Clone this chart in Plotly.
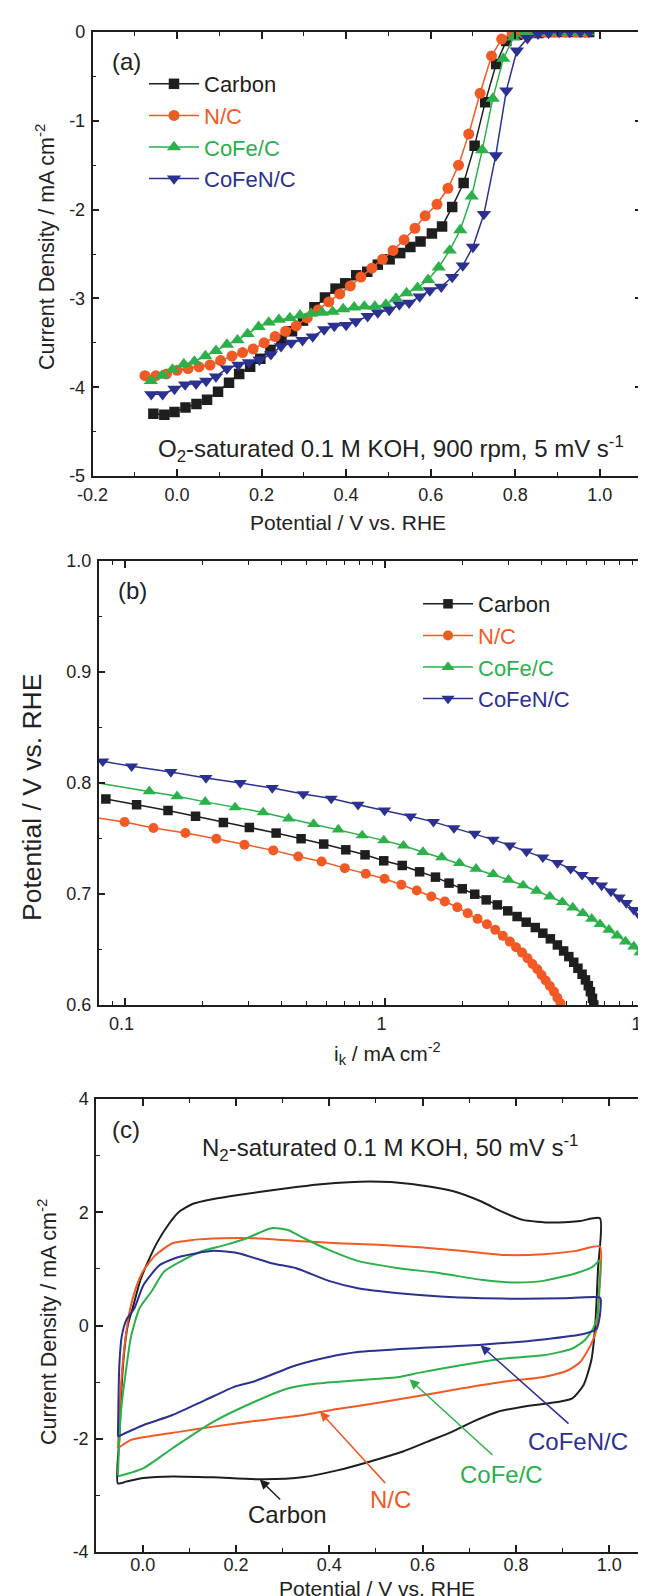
import plotly.graph_objects as go

W, H = 646, 1596
FONT = "Liberation Sans, Arial, sans-serif"

names = ["Carbon", "N/C", "CoFe/C", "CoFeN/C"]
colors = ["#1e1e1e", "#f15a24", "#2bb04a", "#2b3190"]
symbols = ["square", "circle", "triangle-up", "triangle-down"]
a_sizes = [10.5, 11, 12.5, 12.5]
b_sizes = [9.5, 10, 11.5, 11.5]

# ---------- Panel (a): LSV ----------
a_carbon_x = [-0.056,-0.030,-0.006,0.020,0.046,0.071,0.097,0.123,0.147,0.173,0.197,0.221,0.247,0.272,0.298,0.325,0.350,0.375,0.398,0.424,0.450,0.475,0.503,0.528,0.552,0.576,0.603,0.627,0.651,0.678,0.704,0.729,0.755,0.779,0.805,0.830,0.855,0.880,0.905,0.930,0.955,0.975]
a_carbon_y = [-4.30,-4.31,-4.28,-4.23,-4.19,-4.14,-4.05,-3.95,-3.85,-3.77,-3.68,-3.58,-3.47,-3.37,-3.25,-3.10,-2.99,-2.89,-2.83,-2.74,-2.70,-2.62,-2.56,-2.49,-2.42,-2.36,-2.27,-2.19,-1.97,-1.70,-1.28,-0.79,-0.36,-0.10,-0.03,-0.01,-0.01,0,0,0,0,0]
a_nc_x = [-0.076,-0.050,-0.025,0.0,0.026,0.052,0.078,0.103,0.130,0.155,0.180,0.206,0.232,0.257,0.282,0.308,0.334,0.359,0.385,0.410,0.435,0.461,0.486,0.511,0.537,0.563,0.587,0.615,0.641,0.666,0.690,0.717,0.744,0.768,0.793,0.818,0.843,0.868,0.893,0.918,0.943,0.968]
a_nc_y = [-3.87,-3.87,-3.85,-3.81,-3.79,-3.77,-3.75,-3.70,-3.65,-3.61,-3.57,-3.50,-3.43,-3.37,-3.31,-3.22,-3.13,-3.04,-2.95,-2.86,-2.76,-2.66,-2.56,-2.46,-2.34,-2.21,-2.07,-1.94,-1.76,-1.50,-1.15,-0.69,-0.27,-0.08,-0.02,-0.01,0,0,0,0,0,0]
a_cofe_x = [-0.062,-0.036,-0.011,0.016,0.041,0.067,0.092,0.118,0.143,0.167,0.193,0.217,0.241,0.267,0.291,0.317,0.343,0.368,0.393,0.419,0.443,0.468,0.494,0.518,0.543,0.569,0.594,0.619,0.645,0.670,0.697,0.722,0.747,0.772,0.796,0.821,0.846,0.871,0.896,0.921,0.946,0.971]
a_cofe_y = [-3.93,-3.87,-3.80,-3.74,-3.71,-3.65,-3.59,-3.52,-3.47,-3.40,-3.32,-3.27,-3.24,-3.22,-3.19,-3.17,-3.16,-3.15,-3.12,-3.10,-3.09,-3.09,-3.07,-3.00,-2.94,-2.88,-2.79,-2.65,-2.46,-2.23,-1.85,-1.33,-0.75,-0.30,-0.06,-0.02,-0.01,0,0,0,0,0]
a_cofen_x = [-0.061,-0.034,-0.006,0.019,0.045,0.069,0.092,0.118,0.145,0.170,0.195,0.222,0.246,0.270,0.297,0.321,0.348,0.372,0.400,0.423,0.451,0.475,0.502,0.526,0.549,0.574,0.598,0.625,0.651,0.676,0.700,0.726,0.754,0.779,0.804,0.829,0.854,0.879,0.904,0.929,0.954,0.975]
a_cofen_y = [-4.08,-4.08,-4.02,-3.97,-3.96,-3.93,-3.88,-3.79,-3.75,-3.72,-3.69,-3.63,-3.54,-3.50,-3.47,-3.43,-3.35,-3.31,-3.30,-3.26,-3.20,-3.16,-3.13,-3.07,-3.05,-2.98,-2.91,-2.87,-2.76,-2.63,-2.42,-2.05,-1.39,-0.66,-0.21,-0.07,-0.02,-0.01,0,0,0,0]

# ---------- Panel (b): Tafel-like ----------
b_carbon_i = [0.0847,0.1112,0.1469,0.1875,0.2399,0.3020,0.3828,0.4775,0.5834,0.7096,0.8414,0.9931,1.1695,1.3646,1.5704,1.7701,1.9907,2.2233,2.4604,2.7164,2.9785,3.2359,3.5075,3.8019,4.0644,4.3451,4.6238,4.8865,5.1168,5.3456,5.5463,5.7544,5.9293,6.0814,6.1944,6.3096,6.3826]
b_carbon_E = [0.7856,0.7805,0.7753,0.770,0.7645,0.760,0.7549,0.7498,0.745,0.7398,0.7353,0.7299,0.7257,0.7200,0.7152,0.7098,0.7047,0.6998,0.6947,0.6902,0.6848,0.6797,0.6746,0.6698,0.6647,0.6596,0.6541,0.6487,0.6436,0.6385,0.6331,0.6277,0.6226,0.6174,0.612,0.606,0.600]
b_nc_i = [0.070,0.1,0.1291,0.1714,0.2254,0.2891,0.3733,0.4656,0.5728,0.7031,0.8472,1.0,1.1614,1.3305,1.5136,1.7061,1.9055,2.0893,2.2803,2.4774,2.6669,2.8510,3.0339,3.2063,3.3806,3.5481,3.7068,3.8726,4.0179,4.1687,4.3251,4.4875,4.6238,4.7534]
b_nc_E = [0.7705,0.7648,0.7594,0.7549,0.7498,0.7444,0.7393,0.7338,0.7293,0.7233,0.7182,0.7137,0.7083,0.7032,0.6977,0.6932,0.6881,0.6827,0.6776,0.6728,0.6677,0.6623,0.6571,0.6520,0.6472,0.6421,0.6370,0.6322,0.6271,0.6220,0.6171,0.6120,0.6066,0.6015]
b_cofe_i = [0.070,0.1245,0.1592,0.2042,0.2661,0.3412,0.4276,0.5333,0.6637,0.8204,0.9931,1.183,1.406,1.660,1.941,2.249,2.618,2.999,3.412,3.846,4.325,4.831,5.297,5.794,6.266,6.745,7.295,7.852,8.453,9.099,9.616,10.14]
b_cofe_E = [0.802,0.7925,0.788,0.783,0.778,0.7735,0.768,0.763,0.758,0.7528,0.7483,0.7435,0.7378,0.733,0.7278,0.7227,0.7179,0.7128,0.7077,0.7029,0.6977,0.6926,0.6878,0.6827,0.6776,0.6728,0.6677,0.6626,0.6571,0.6526,0.6475,0.642]
b_cofen_i = [0.0824,0.1064,0.1507,0.2056,0.2786,0.3698,0.4864,0.6237,0.7907,1.0,1.259,1.542,1.849,2.223,2.618,3.034,3.516,4.064,4.624,5.200,5.754,6.310,6.839,7.430,7.998,8.511,9.099,9.616,10.07]
b_cofen_E = [0.8195,0.815,0.810,0.8045,0.800,0.7955,0.790,0.786,0.7805,0.7753,0.770,0.765,0.7594,0.7543,0.749,0.7438,0.7383,0.733,0.728,0.7227,0.7173,0.7128,0.7077,0.7023,0.697,0.692,0.6857,0.680,0.666]

# ---------- Panel (c): CV loops ----------
c_carbon_x = [-0.053,-0.050,-0.046,-0.040,-0.032,-0.020,-0.005,0.010,0.030,0.055,0.077,0.108,0.152,0.205,0.293,0.382,0.488,0.576,0.664,0.726,0.770,0.815,0.876,0.938,0.980,
              0.976,0.970,0.962,0.945,0.920,0.867,0.815,0.761,0.708,0.664,0.611,0.558,0.488,0.417,0.346,0.258,0.152,0.064,0.002,-0.034,-0.053]
c_carbon_y = [-2.79,-2.0,-1.2,-0.5,0.0,0.35,0.8,1.1,1.45,1.78,2.0,2.15,2.235,2.306,2.406,2.494,2.541,2.50,2.376,2.19,2.01,1.865,1.818,1.847,1.894,
              1.0,0.0,-0.6,-1.05,-1.29,-1.376,-1.435,-1.523,-1.698,-1.874,-2.05,-2.225,-2.401,-2.559,-2.676,-2.717,-2.682,-2.665,-2.694,-2.753,-2.79]
c_nc_x = [-0.053,-0.050,-0.045,-0.038,-0.028,-0.015,0.0,0.028,0.064,0.108,0.170,0.240,0.329,0.417,0.505,0.594,0.682,0.770,0.859,0.929,0.980,
          0.978,0.973,0.960,0.938,0.912,0.859,0.770,0.682,0.594,0.505,0.417,0.329,0.240,0.152,0.081,0.019,-0.025,-0.053]
c_nc_y = [-2.17,-1.6,-0.9,-0.3,0.25,0.65,0.95,1.247,1.453,1.512,1.541,1.541,1.494,1.453,1.424,1.382,1.318,1.247,1.259,1.318,1.394,
          0.6,-0.06,-0.35,-0.644,-0.79,-0.908,-0.996,-1.113,-1.242,-1.365,-1.476,-1.599,-1.687,-1.786,-1.874,-1.95,-2.02,-2.167]
c_cofe_x = [-0.053,-0.050,-0.045,-0.036,-0.025,-0.007,0.019,0.046,0.081,0.125,0.178,0.223,0.276,0.311,0.346,0.399,0.461,0.549,0.638,0.726,0.797,0.859,0.929,0.965,0.980,
            0.978,0.973,0.965,0.947,0.920,0.859,0.770,0.682,0.594,0.549,0.461,0.373,0.311,0.240,0.152,0.064,0.002,-0.053]
c_cofe_y = [-2.65,-2.0,-1.4,-0.81,-0.2,0.3,0.6,0.953,1.13,1.306,1.424,1.541,1.718,1.688,1.541,1.335,1.141,1.012,0.924,0.806,0.759,0.788,0.924,1.041,1.147,
            0.5,0.117,-0.06,-0.264,-0.41,-0.527,-0.586,-0.703,-0.832,-0.908,-0.966,-1.025,-1.113,-1.347,-1.698,-2.167,-2.518,-2.665]
c_cofen_x = [-0.053,-0.052,-0.050,-0.045,-0.035,-0.018,0.002,0.037,0.081,0.152,0.205,0.276,0.329,0.399,0.461,0.549,0.638,0.726,0.815,0.903,0.980,
             0.982,0.980,0.973,0.947,0.859,0.726,0.594,0.461,0.399,0.329,0.240,0.196,0.134,0.064,0.002,-0.053]
c_cofen_y = [-1.96,-1.4,-0.7,-0.2,0.1,0.3,0.718,1.07,1.218,1.318,1.276,1.1,1.012,0.788,0.659,0.571,0.512,0.482,0.471,0.482,0.494,
             0.45,0.176,-0.06,-0.146,-0.246,-0.34,-0.398,-0.469,-0.556,-0.703,-0.984,-1.083,-1.318,-1.581,-1.757,-1.962]

# c-panel labels: (text, text_x, text_y, tail_x, tail_y, head_x, head_y)
c_labels = [
    ("Carbon", 0.311, -3.34, 0.298, -3.10, 0.251, -2.72),
    ("N/C", 0.532, -3.07, 0.523, -2.81, 0.380, -1.52),
    ("CoFe/C", 0.770, -2.635, 0.753, -2.31, 0.572, -0.95),
    ("CoFeN/C", 0.934, -2.05, 0.916, -1.757, 0.724, -0.35),
]

a_xticks = [-0.2, 0.0, 0.2, 0.4, 0.6, 0.8, 1.0]
a_xtext = ["-0.2", "0.0", "0.2", "0.4", "0.6", "0.8", "1.0"]
a_yticks = [0, -1, -2, -3, -4, -5]
a_ytext = ["0", "-1", "-2", "-3", "-4", "-5"]
b_xticks = [0.1, 1, 10]
b_xtext = ["0.1", "1", "10"]
b_yticks = [0.6, 0.7, 0.8, 0.9, 1.0]
b_ytext = ["0.6", "0.7", "0.8", "0.9", "1.0"]
c_xticks = [0.0, 0.2, 0.4, 0.6, 0.8, 1.0]
c_xtext = ["0.0", "0.2", "0.4", "0.6", "0.8", "1.0"]
c_yticks = [-4, -2, 0, 2, 4]
c_ytext = ["-4", "-2", "0", "2", "4"]
b_minor = [0.09, 0.2, 0.3, 0.4, 0.5, 0.6, 0.7, 0.8, 0.9, 2, 3, 4, 5, 6, 7, 8, 9]

a_series = [(a_carbon_x, a_carbon_y), (a_nc_x, a_nc_y), (a_cofe_x, a_cofe_y), (a_cofen_x, a_cofen_y)]
b_series = [(b_carbon_i, b_carbon_E), (b_nc_i, b_nc_E), (b_cofe_i, b_cofe_E), (b_cofen_i, b_cofen_E)]
c_series = [(c_carbon_x, c_carbon_y), (c_nc_x, c_nc_y), (c_cofe_x, c_cofe_y), (c_cofen_x, c_cofen_y)]

fig = go.Figure()

def px_x(p):
    return p / W

def px_y(p):
    return 1 - p / H

for i, (xs, ys) in enumerate(a_series):
    fig.add_trace(go.Scatter(
        x=xs, y=ys, mode="lines+markers", xaxis="x", yaxis="y",
        name=f'<span style="color:{colors[i]}">{names[i]}</span>',
        line=dict(color=colors[i], width=1.5),
        marker=dict(symbol=symbols[i], size=a_sizes[i], color=colors[i], line=dict(width=0)),
        legend="legend", showlegend=True))

for i, (xs, ys) in enumerate(b_series):
    fig.add_trace(go.Scatter(
        x=xs, y=ys, mode="lines+markers", xaxis="x2", yaxis="y2",
        name=f'<span style="color:{colors[i]}">{names[i]}</span>',
        line=dict(color=colors[i], width=1.5),
        marker=dict(symbol=symbols[i], size=b_sizes[i], color=colors[i], line=dict(width=0)),
        legend="legend2", showlegend=True))

for i, (xs, ys) in enumerate(c_series):
    fig.add_trace(go.Scatter(
        x=xs, y=ys, mode="lines", xaxis="x3", yaxis="y3",
        line=dict(color=colors[i], width=2, shape="spline", smoothing=0.6),
        showlegend=False, name=names[i]))

axis_common = dict(
    showline=True, linecolor="#1e1e1e", linewidth=1.5, mirror="allticks",
    ticks="inside", ticklen=7, tickwidth=1.5, tickcolor="#1e1e1e",
    showgrid=False, zeroline=False, automargin=False,
    tickfont=dict(family=FONT, size=18, color="#222"),
)

def minor(dt, t0):
    return dict(ticks="inside", ticklen=4, tickwidth=1.2, tickcolor="#1e1e1e",
                tickmode="linear", dtick=dt, tick0=t0, showgrid=False)

legend_common = dict(xanchor="left", yanchor="top", bgcolor="rgba(0,0,0,0)",
                     borderwidth=0, itemwidth=50, font=dict(family=FONT, size=22))

fig.update_layout(
    width=W, height=H,
    margin=dict(l=0, r=0, t=0, b=0),
    paper_bgcolor="white", plot_bgcolor="white",
    font=dict(family=FONT, size=18, color="#222"),
    xaxis=dict(axis_common, domain=[px_x(84.5), px_x(634)], range=[-0.2, 1.1],
               tickmode="array", tickvals=a_xticks, ticktext=a_xtext,
               minor=minor(0.1, 0), anchor="y", ticklabelstandoff=2),
    yaxis=dict(axis_common, domain=[px_y(468), px_y(24)], range=[-5, 0],
               tickmode="array", tickvals=a_yticks, ticktext=a_ytext,
               minor=minor(0.5, 0), anchor="x", ticklabelstandoff=2),
    xaxis2=dict(axis_common, type="log", domain=[px_x(90.6), px_x(636.6)], range=[-1.1, 1.0005],
                tickmode="array", tickvals=b_xticks, ticktext=b_xtext,
                minor=dict(ticks="inside", ticklen=4, tickwidth=1.2, tickcolor="#1e1e1e",
                           tickmode="array", tickvals=b_minor, showgrid=False),
                anchor="y2", ticklabelstandoff=2, ticklabeloverflow="allow",
                ticklabelshift=-3),
    yaxis2=dict(axis_common, domain=[px_y(997), px_y(553)], range=[0.6, 1.0],
                tickmode="array", tickvals=b_yticks, ticktext=b_ytext,
                minor=minor(0.05, 0.6), anchor="x2", ticklabelstandoff=2),
    xaxis3=dict(axis_common, domain=[px_x(88), 1.0], range=[-0.1, 1.096],
                tickmode="array", tickvals=c_xticks, ticktext=c_xtext,
                minor=minor(0.1, 0), anchor="y3", ticklabelstandoff=-4),
    yaxis3=dict(axis_common, domain=[px_y(1544), px_y(1091)], range=[-4, 4],
                tickmode="array", tickvals=c_yticks, ticktext=c_ytext,
                minor=minor(1, 0), anchor="x3", ticklabelstandoff=2),
    legend=dict(legend_common, x=px_x(136), y=px_y(55)),
    legend2=dict(legend_common, x=px_x(410), y=px_y(575)),
)

ann = []
def paper_text(text, x, y, size, angle=0, color="#222", yanchor="middle"):
    ann.append(dict(text=text, x=px_x(x), y=px_y(y), xref="paper", yref="paper",
                    xanchor="center", yanchor=yanchor, showarrow=False, textangle=angle,
                    font=dict(family=FONT, size=size, color=color)))

# axis titles
paper_text("Current Density / mA cm<sup>-2</sup>", 37, 239, 21.5, -90)
paper_text("Potential / V vs. RHE", 340, 515, 21)
paper_text("Potential / V vs. RHE", 24, 790, 26.5, -90)
paper_text("i<sub>k</sub> / mA cm<sup>-2</sup>", 379, 1045, 21)
paper_text("Current Density / mA cm<sup>-2</sup>", 39, 1314, 21.5, -90)
paper_text("Potential / V vs. RHE", 369, 1580, 21)
# panel labels & conditions
paper_text("(a)", 118, 53, 24)
paper_text("(b)", 124, 582, 24)
paper_text("(c)", 117.5, 1121, 24)
paper_text("O<sub>2</sub>-saturated 0.1 M KOH, 900 rpm, 5 mV s<sup>-1</sup>", 383, 441, 24)
paper_text("N<sub>2</sub>-saturated 0.1 M KOH, 50 mV s<sup>-1</sup>", 382, 1140, 24)

for i, (txt, tx, ty, axx, ayy, hx, hy) in enumerate(c_labels):
    ann.append(dict(text=txt, x=tx, y=ty, xref="x3", yref="y3", showarrow=False,
                    xanchor="center", yanchor="middle",
                    font=dict(family=FONT, size=24, color=colors[i])))
    ann.append(dict(text="", x=hx, y=hy, xref="x3", yref="y3",
                    ax=axx, ay=ayy, axref="x3", ayref="y3", showarrow=True,
                    arrowhead=2, arrowsize=1.3, arrowwidth=1.5, arrowcolor=colors[i],
                    standoff=0, startstandoff=0))

fig.update_layout(annotations=ann)
fig.write_html("out.html")
